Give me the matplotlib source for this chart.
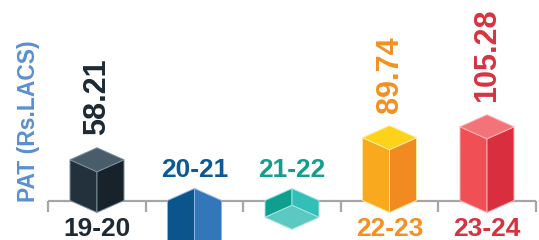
import matplotlib
matplotlib.use("Agg")
import matplotlib.pyplot as plt
from matplotlib.patches import Polygon

categories = ["19-20", "20-21", "21-22", "22-23", "23-24"]
values = [58.21, -90.0, -24.0, 89.74, 105.28]
value_labels = ["58.21", "", "", "89.74", "105.28"]
ylabel = "PAT (Rs.LACS)"

left_cols = ["#22313c", "#0b548c", "#0ea08e", "#f9a91e", "#f04f55"]
right_cols = ["#17222b", "#3377ba", "#33bfb8", "#f28a22", "#d92e3e"]
cap_cols = ["#485c6a", "#2f6fae", "#5bc8c2", "#fdd31a", "#f47379"]
edge_cols = ["#7d8f9c", "#8fb6e0", "#a5e3df", "#ffe9a0", "#f9b3b6"]
text_cols = ["#1e2a33", "#0c5a95", "#139e8f", "#f3901f", "#d8323f"]

W, H, DPI = 539, 240, 100
fig = plt.figure(figsize=(W / DPI, H / DPI), dpi=DPI)
ax = fig.add_axes([0, 0, 1, 1])
ax.set_axis_off()

k = 0.7             # px per unit
x0 = 97.0           # px of first category
step = 97.5         # px between categories
axis_y = 200.5      # px from top
ax.set_xlim(-x0 / step, (W - x0) / step)
ax.set_ylim(-(H - axis_y) / k, axis_y / k)

w = 27 / step       # half width in x units
d = 12 / k          # depth offset in y units
fam = ["Liberation Sans", "DejaVu Sans"]

for i, v in enumerate(values):
    c = i
    ec = edge_cols[i]
    if v >= 0:
        lf = [(c - w, 0), (c, -d), (c, v - d), (c - w, v)]
        rf = [(c, -d), (c + w, 0), (c + w, v), (c, v - d)]
        cf = [(c - w, v), (c, v - d), (c + w, v), (c, v + d)]
    else:
        lf = [(c - w, 0), (c, d), (c, v + d), (c - w, v)]
        rf = [(c, d), (c + w, 0), (c + w, v), (c, v + d)]
        cf = [(c - w, v), (c, v + d), (c + w, v), (c, v - d)]
    for pts, col in ((lf, left_cols[i]), (rf, right_cols[i]), (cf, cap_cols[i])):
        ax.add_patch(Polygon(pts, closed=True, facecolor=col, edgecolor=ec,
                             linewidth=0.7, zorder=3))
    if v >= 0:
        ax.text(c, -35.0 / k, categories[i], ha="center", va="baseline",
                fontsize=19, fontweight="bold", color=text_cols[i], family=fam)
        ax.text(c, v + d + 13 / k, value_labels[i], ha="center", va="bottom",
                rotation=90, fontsize=22, fontweight="bold", color=text_cols[i],
                family=fam)
    else:
        ax.text(c, 23.5 / k, categories[i], ha="center", va="baseline",
                fontsize=19, fontweight="bold", color=text_cols[i], family=fam)

# axis line with ticks
n = len(categories)
ax.plot([-0.5, n - 0.5], [0, 0], color="#a6a6a6", lw=1.6, zorder=2,
        solid_capstyle="butt")
for t in range(n + 1):
    ax.plot([t - 0.5, t - 0.5], [0, -11 / k], color="#a6a6a6", lw=1.6,
            zorder=2, solid_capstyle="butt")

fig.text(29 / W, 1 - 121 / H, ylabel, rotation=90, ha="center", va="center",
         fontsize=16.5, fontweight="bold", color="#5b8fd1", family=fam)

fig.savefig("out.png", dpi=DPI)
